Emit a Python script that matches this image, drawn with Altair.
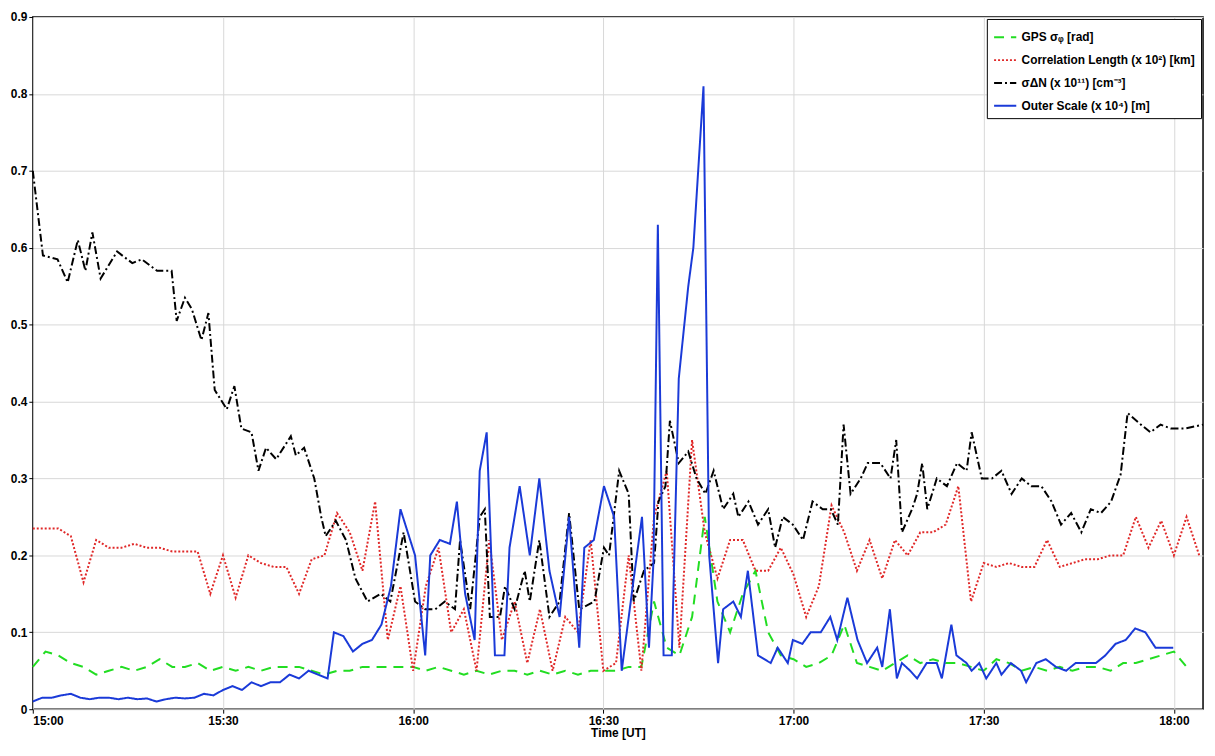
import altair as alt
import numpy as np
import pandas as pd

# minutes after 15:00 UT
dn_t = [0, 1.6, 3.9, 5.5, 7.1, 8.3, 9.4, 10.7, 13.3, 15.7, 17.2, 19.6, 21.9, 22.7, 24, 25.1, 26.6, 27.7,
        28.7, 30.6, 31.8, 32.9, 34.5, 35.6, 36.8, 38.4, 40.7, 41.5, 42.8, 44.4, 45.5, 46.2, 47.8, 49.4,
        50.9, 52.8, 54.9, 56.4, 58.5, 60.3, 61.9, 63.5, 65, 66.6, 67.4, 69, 70.5, 71.3, 72.1, 73.7, 74.5,
        76, 77.6, 78.4, 79.9, 81.5, 83.1, 84.6, 86.2, 88.6, 90.1, 90.9, 92.5, 94, 94.8, 96.4, 98, 98.7,
        99.8, 100.5, 101.9, 103.4, 104.7, 106.1, 107.4, 108.9, 110.5, 111.3, 112.9, 114.4, 116, 117.1,
        118.3, 119.9, 121.5, 123, 124.6, 125.9, 127, 127.9, 129, 130.6, 131.7, 133.7, 135.3, 136.2,
        137.1, 138.7, 139.5, 140.3, 141.1, 142.6, 144.2, 145.8, 147.3, 148.1, 149.7, 151.3, 152.8,
        154.4, 156, 157.5, 159.1, 160.7, 162.2, 163.8, 165.4, 166.9, 168.5, 170.1, 171.6, 172.7, 174.8,
        176.3, 177.9, 179.5, 181.8, 184.6]
dn_v = [0.70, 0.59, 0.585, 0.555, 0.61, 0.57, 0.62, 0.56, 0.595, 0.58, 0.585, 0.57, 0.57, 0.505, 0.535,
        0.52, 0.48, 0.515, 0.415, 0.39, 0.42, 0.365, 0.36, 0.31, 0.34, 0.325, 0.355, 0.33, 0.34, 0.30,
        0.25, 0.225, 0.245, 0.22, 0.17, 0.14, 0.15, 0.14, 0.23, 0.14, 0.13, 0.13, 0.14, 0.13, 0.22, 0.13,
        0.25, 0.26, 0.12, 0.12, 0.16, 0.13, 0.18, 0.14, 0.22, 0.12, 0.14, 0.255, 0.13, 0.14, 0.21, 0.20,
        0.31, 0.28, 0.14, 0.18, 0.19, 0.27, 0.29, 0.375, 0.32, 0.335, 0.30, 0.28, 0.31, 0.26, 0.28, 0.25,
        0.27, 0.24, 0.26, 0.21, 0.25, 0.24, 0.22, 0.27, 0.26, 0.26, 0.24, 0.37, 0.28, 0.30, 0.32, 0.32,
        0.30, 0.35, 0.23, 0.26, 0.28, 0.32, 0.26, 0.30, 0.29, 0.32, 0.31, 0.36, 0.30, 0.30, 0.31, 0.28,
        0.30, 0.29, 0.29, 0.27, 0.24, 0.255, 0.23, 0.26, 0.255, 0.27, 0.305, 0.385, 0.37, 0.36, 0.37,
        0.365, 0.365, 0.37]

# every 2 minutes from 15:00
corr_v = [0.235, 0.235, 0.235, 0.225, 0.165, 0.22, 0.21, 0.21, 0.215, 0.21, 0.21, 0.205, 0.205, 0.205,
          0.15, 0.20, 0.145, 0.20, 0.19, 0.185, 0.185, 0.15, 0.195, 0.20, 0.255, 0.23, 0.18, 0.27, 0.09,
          0.16, 0.05, 0.16, 0.21, 0.10, 0.13, 0.05, 0.22, 0.09, 0.14, 0.06, 0.13, 0.05, 0.12, 0.10, 0.22,
          0.05, 0.06, 0.20, 0.05, 0.25, 0.31, 0.08, 0.35, 0.23, 0.17, 0.22, 0.22, 0.18, 0.18, 0.21, 0.175,
          0.12, 0.16, 0.265, 0.23, 0.18, 0.22, 0.17, 0.22, 0.20, 0.23, 0.23, 0.24, 0.29, 0.14, 0.19, 0.185,
          0.19, 0.185, 0.185, 0.22, 0.185, 0.19, 0.195, 0.195, 0.20, 0.20, 0.25, 0.21, 0.245, 0.20, 0.25,
          0.20]
gps_v = [0.055, 0.075, 0.07, 0.06, 0.055, 0.045, 0.05, 0.055, 0.05, 0.055, 0.065, 0.055, 0.055, 0.06,
         0.05, 0.055, 0.05, 0.055, 0.05, 0.055, 0.055, 0.055, 0.05, 0.045, 0.05, 0.05, 0.055, 0.055, 0.055,
         0.055, 0.055, 0.05, 0.055, 0.05, 0.045, 0.05, 0.045, 0.05, 0.05, 0.045, 0.05, 0.045, 0.05, 0.045,
         0.05, 0.05, 0.05, 0.055, 0.055, 0.14, 0.08, 0.07, 0.12, 0.25, 0.14, 0.10, 0.15, 0.18, 0.10, 0.07,
         0.065, 0.055, 0.06, 0.07, 0.11, 0.06, 0.055, 0.05, 0.06, 0.07, 0.06, 0.065, 0.06, 0.06, 0.055,
         0.05, 0.065, 0.06, 0.05, 0.055, 0.05, 0.055, 0.05, 0.055, 0.055, 0.05, 0.06, 0.06, 0.065, 0.07,
         0.075, 0.055]

outer_t = [0, 1.5, 3, 4.5, 6, 7.5, 9, 10.5, 12, 13.5, 15, 16.5, 18, 19.5, 21, 22.5, 24, 25.5, 27, 28.5,
           30, 31.5, 33, 34.5, 36, 37.5, 39, 40.5, 42, 43.5, 45, 46.5, 48, 49.5, 51, 52.5, 54, 55.5,
           58.0, 60.3, 61.9, 62.7, 64.2, 65.8, 66.9, 68.2, 69.7, 70.5, 71.6, 72.9, 74.4,
           75.2, 76.8, 78.4, 79.9, 81.5, 83.1, 84.6, 86.2, 87, 88.5, 90.1, 91.7, 92.9, 94.8, 96.1, 97.2,
           97.9, 98.6, 99.5, 100.8, 101.9, 103.4, 104.2, 105.8, 106.7, 108.1, 108.9, 110.5, 111.7, 112.8,
           114.4, 116.4, 117.5, 119.1, 119.9, 121.4, 122.7, 124.3, 125.8, 126.9, 128.5, 130.1, 131.6,
           133.2, 134, 135.2, 136.3, 137.1, 138.4, 139.5, 141, 142.6, 143.4, 144.9, 145.7, 147.3, 148.1,
           149.3, 150.4, 152, 152.8, 154.3, 155.9, 156.7, 158.3, 159.8, 161.4, 163, 164.5, 166.1, 167.7,
           169.2, 170.8, 172.4, 173.9, 175.5, 177.1, 179.9]
outer_v = [0.01, 0.015, 0.015, 0.018, 0.02, 0.015, 0.013, 0.015, 0.015, 0.013, 0.015, 0.013, 0.014,
           0.01, 0.013, 0.015, 0.014, 0.015, 0.02, 0.018, 0.025, 0.03, 0.025, 0.035, 0.03, 0.035, 0.035,
           0.045, 0.04, 0.05, 0.045, 0.04, 0.055, 0.04, 0.045, 0.05, 0.04, 0.04,
           0.26, 0.20, 0.07, 0.20, 0.22, 0.215, 0.27, 0.15, 0.09, 0.31, 0.36, 0.07, 0.07, 0.21, 0.29, 0.20,
           0.30, 0.18, 0.12, 0.25, 0.08, 0.21, 0.22, 0.29, 0.25, 0.05, 0.17, 0.25, 0.08, 0.19, 0.63, 0.07,
           0.07, 0.43, 0.55, 0.60, 0.81, 0.20, 0.06, 0.13, 0.14, 0.12, 0.18, 0.07, 0.06, 0.08, 0.06, 0.09,
           0.085, 0.10, 0.10, 0.12, 0.09, 0.145, 0.09, 0.06, 0.08, 0.055, 0.13, 0.04, 0.06, 0.05, 0.04,
           0.06, 0.06, 0.04, 0.11, 0.07, 0.06, 0.05, 0.06, 0.04, 0.06, 0.045, 0.06, 0.05, 0.035, 0.06,
           0.065, 0.055, 0.05, 0.06, 0.06, 0.06, 0.07, 0.085, 0.09, 0.105, 0.10, 0.08, 0.08]
# rise around 15:46-15:56
outer_t2 = [47.5, 49, 50.5, 52, 53.5, 55, 56.5]
outer_v2 = [0.10, 0.095, 0.075, 0.085, 0.09, 0.11, 0.16]

names = ["GPS σᵩ [rad]", "Correlation Length (x 10²) [km]", "σ\u0394N (x 10¹¹) [cm⁻³]",
         "Outer Scale (x 10⁴) [m]"]
colors = ["#22dd22", "#e02828", "#000000", "#1a3ad8"]
dashes = [[10, 7], [2, 2], [8, 3, 2, 3], [1, 0]]

# replace the 47-57 minute part of the outer scale with the rise
ot, ov = [], []
for t, v in zip(outer_t, outer_v):
    if not (47 <= t < 57):
        ot.append(t)
        ov.append(v)
ot += outer_t2
ov += outer_v2

frames = [
    pd.DataFrame({"t": 2 * np.arange(len(gps_v)), "v": gps_v, "s": names[0]}),
    pd.DataFrame({"t": 2 * np.arange(len(corr_v)), "v": corr_v, "s": names[1]}),
    pd.DataFrame({"t": dn_t, "v": dn_v, "s": names[2]}),
    pd.DataFrame({"t": ot, "v": ov, "s": names[3]}),
]
df = pd.concat(frames, ignore_index=True)

chart = (
    alt.Chart(df)
    .mark_line(strokeWidth=2)
    .encode(
        x=alt.X("t:Q", title="Time [UT]", scale=alt.Scale(domain=[0, 184.6], nice=False, zero=False),
                axis=alt.Axis(values=[0, 30, 60, 90, 120, 150, 180],
                              labelExpr="format(15 + floor(datum.value / 60), '02d') + ':' + format(datum.value % 60, '02d')")),
        y=alt.Y("v:Q", title=None, scale=alt.Scale(domain=[0, 0.9], nice=False),
                axis=alt.Axis(values=[0, 0.1, 0.2, 0.3, 0.4, 0.5, 0.6, 0.7, 0.8, 0.9],
                              labelExpr="datum.value == 0 ? '0' : format(datum.value, '.1f')")),
        color=alt.Color("s:N", scale=alt.Scale(domain=names, range=colors),
                        legend=alt.Legend(title=None, orient="top-right", fillColor="white",
                                          strokeColor="black", padding=6, symbolType="stroke",
                                          symbolSize=500, symbolStrokeWidth=2, labelFontSize=12,
                                          labelFontWeight="bold", rowPadding=4, offset=2,
                                          labelLimit=400)),
        strokeDash=alt.StrokeDash("s:N", scale=alt.Scale(domain=names, range=dashes), legend=None),
        detail="s:N",
    )
    .properties(width=1180, height=698, padding={"top": 0, "left": 2, "right": 0, "bottom": 0})
    .configure_view(stroke="black", strokeWidth=1.5)
    .configure_axis(labelFont="Arial", titleFont="Arial", labelFontWeight="bold", titleFontWeight="bold",
                    labelFontSize=12, titleFontSize=12, labelColor="black", titleColor="black",
                    gridColor="#d8d8d8", domain=False, tickColor="black", tickSize=4, titlePadding=2)
    .configure_legend(labelFont="Arial")
)

chart.save("out.html", embed_options={"renderer": "svg", "actions": False})
